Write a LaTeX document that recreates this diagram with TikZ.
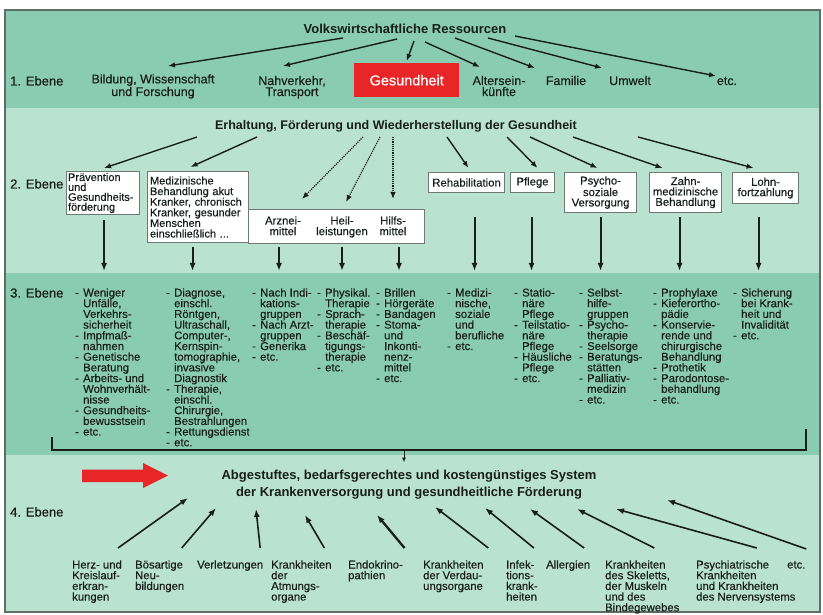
\documentclass[tikz,border=0pt]{standalone}
\usepackage{fontspec}
\setmainfont{Liberation Sans}
\newfontfamily\heavy{Liberation Sans}[FakeBold=0.35]
\usetikzlibrary{arrows.meta}
\definecolor{bandA}{RGB}{138,204,178}
\definecolor{bandB}{RGB}{186,226,208}
\definecolor{redbox}{RGB}{232,38,40}
\definecolor{ink}{RGB}{24,30,27}
\definecolor{framec}{RGB}{95,110,104}
\definecolor{boxline}{RGB}{110,120,116}
\newcommand\dd{\makebox[8pt][l]{-}}
\newcommand\ii{\hspace*{8pt}}
\tikzset{
  arr/.style={draw=ink, line width=1.4pt, -{Latex[length=7pt,width=5.5pt]}},
  darr/.style={draw=ink, line width=1.2pt, densely dotted, -{Latex[length=7pt,width=5.5pt]}},
  varr/.style={draw=ink, line width=1.9pt, -{Latex[length=8pt,width=6pt]}},
  uarr/.style={draw=ink, line width=1.6pt, -{Latex[length=8pt,width=6pt]}},
  sarr/.style={draw=ink, line width=1pt, -{Latex[length=5pt,width=4pt]}},
  head/.style={font=\fontsize{12.5}{17}\selectfont\bfseries, text=ink, inner sep=0pt, align=center},
  lvl/.style={font=\heavy\fontsize{13}{11}\selectfont, text=ink, inner sep=0pt},
  itemA/.style={font=\heavy\fontsize{12.5}{11}\selectfont, text=ink, inner sep=0pt, align=center},
  body/.style={font=\heavy\fontsize{11.3}{10.7}\selectfont, text=ink, inner sep=0pt, align=left},
  boxA/.style={draw=boxline, line width=1.1pt, fill=white, font=\heavy\fontsize{11.3}{10.4}\selectfont, text=ink, inner xsep=2.5pt, inner ysep=1.5pt, anchor=north west},
}
\begin{document}
\begin{tikzpicture}[x=1pt,y=-1pt]
\useasboundingbox (0,0) rectangle (823,615);
% bands
\fill[white] (0,0) rectangle (823,615);
\fill[bandA] (5,10) rectangle (820,108);
\fill[bandB] (5,108) rectangle (820,273);
\fill[bandA] (5,273) rectangle (820,455);
\fill[bandB] (5,455) rectangle (820,612);
\draw[framec, line width=1.4pt] (5,10) rectangle (820,612);

% ---------- level 1  (multi-line nodes: base = last baseline)
\node[head, font=\fontsize{13}{17}\selectfont\bfseries, anchor=base] (volk) at (405,34) {Volkswirtschaftliche Ressourcen};
\node[lvl, anchor=base west] (eb1) at (10,85.5) {1. Ebene};
\node[itemA, anchor=base] (bild) at (153,96) {Bildung, Wissenschaft\\und Forschung};
\node[itemA, anchor=base] (nahv) at (292,96) {Nahverkehr,\\Transport};
\node[fill=redbox, text=white, font=\heavy\fontsize{14.5}{14}\selectfont, minimum width=105pt, minimum height=34pt, inner sep=0pt, anchor=north west] (ges) at (354,63) {Gesundheit};
\node[itemA, anchor=base] (alt) at (499,96) {Altersein-\\künfte};
\node[itemA, anchor=base] (fam) at (566,85) {Familie};
\node[itemA, anchor=base] (umw) at (630,85) {Umwelt};
\node[itemA, anchor=base] (etcA) at (727,85) {etc.};

\draw[arr] ([xshift=-62pt,yshift=-4pt]volk.base) -- ([xshift=15pt,yshift=30pt]bild.base);
\draw[arr] ([xshift=-8pt,yshift=-5pt]volk.base) -- ([xshift=-9pt,yshift=30pt]nahv.base);
\draw[arr] ([xshift=9pt,yshift=-7pt]volk.base) -- ([yshift=2pt]ges.north);
\draw[arr] ([xshift=20pt,yshift=-8pt]volk.base) -- ([xshift=-19pt,yshift=29pt]alt.base);
\draw[arr] ([xshift=50pt,yshift=-4pt]volk.base) -- ([xshift=-31pt,yshift=17pt]fam.base);
\draw[arr] ([xshift=83pt,yshift=-4pt]volk.base) -- ([xshift=-28pt,yshift=17pt]umw.base);
\draw[arr] ([xshift=110pt,yshift=-2pt]volk.base) -- ([xshift=-11pt,yshift=9pt]etcA.base);

% ---------- level 2
\node[head, anchor=base] (erh) at (396,130) {Erhaltung, Förderung und Wiederherstellung der Gesundheit};
\node[lvl, anchor=base west] (eb2) at (10,188.5) {2. Ebene};
\node[boxA, font=\heavy\fontsize{11}{9.9}\selectfont, inner xsep=1.5pt, text width=70pt, align=left] (prae) at (66,171) {Prävention\\und\\Gesundheits-\\förderung};
\node[boxA, text width=96pt, align=left, minimum height=71pt, font=\heavy\fontsize{11}{10.6}\selectfont] (med) at (147,171) {Medizinische\\Behandlung akut\\Kranker, chronisch\\Kranker, gesunder\\Menschen\\einschließlich ...};
\node[boxA, minimum width=176pt, minimum height=34pt] (ahh) at (248,209) {};
\node[body, align=center, anchor=base] (arz) at (283,235.2) {Arznei-\\mittel};
\node[body, align=center, anchor=base] (heil) at (342,235.2) {Heil-\\leistungen};
\node[body, align=center, anchor=base] (hilf) at (393,235.2) {Hilfs-\\mittel};
\node[boxA, align=center, minimum width=76pt, minimum height=20pt] (rehab) at (428,172) {Rehabilitation};
\node[boxA, align=center, minimum width=44pt, minimum height=20pt] (pfl) at (510,172) {Pflege};
\node[boxA, align=center, minimum width=72pt, minimum height=40pt] (psy) at (564,172) {Psycho-\\soziale\\Versorgung};
\node[boxA, align=center, minimum width=72pt, minimum height=40pt] (zahn) at (649,172) {Zahn-\\medizinische\\Behandlung};
\node[boxA, align=center, minimum width=66pt, minimum height=31pt] (lohn) at (732,172) {Lohn-\\fortzahlung};

\draw[arr] ([xshift=-199pt,yshift=-7pt]erh.base) -- ([xshift=1pt,yshift=3pt]prae.north);
\draw[arr] ([xshift=-139pt,yshift=-7pt]erh.base) -- ([xshift=-7.5pt,yshift=4pt]med.north);
\draw[darr] ([xshift=-33pt,yshift=-7pt]erh.base) -- ([xshift=19pt,yshift=36.2pt]arz.base);
\draw[darr] ([xshift=-16pt,yshift=-7pt]erh.base) -- ([xshift=4pt,yshift=33.2pt]heil.base);
\draw[darr] ([xshift=-3pt,yshift=-7pt]erh.base) -- ([yshift=36.2pt]hilf.base);
\draw[arr] ([xshift=51pt,yshift=-7pt]erh.base) -- ([xshift=2pt,yshift=4pt]rehab.north);
\draw[arr] ([xshift=111pt,yshift=-7pt]erh.base) -- ([xshift=5pt,yshift=4pt]pfl.north);
\draw[arr] ([xshift=134pt,yshift=-7pt]erh.base) -- ([xshift=-3pt,yshift=4pt]psy.north);
\draw[arr] ([xshift=177pt,yshift=-7pt]erh.base) -- ([xshift=-23pt,yshift=4pt]zahn.north);
\draw[arr] ([xshift=242pt,yshift=-7pt]erh.base) -- ([xshift=-12pt,yshift=4pt]lohn.north);

% ---------- level 3 (first baseline 296.5, leading 10.7)
\coordinate (b3) at (0,271);
\node[lvl, anchor=base west] (eb3) at (10,297.5) {3. Ebene};
\node[body, anchor=base west] (c1) at (75,{296.5+13*10.7}) {\dd Weniger\\\ii Unfälle,\\\ii Verkehrs-\\\ii sicherheit\\\dd Impfmaß-\\\ii nahmen\\\dd Genetische\\\ii Beratung\\\dd Arbeits- und\\\ii Wohnverhält-\\\ii nisse\\\dd Gesundheits-\\\ii bewusstsein\\\dd etc.};
\node[body, anchor=base west] (c2) at (166,{296.5+14*10.7}) {\dd Diagnose,\\\ii einschl.\\\ii Röntgen,\\\ii Ultraschall,\\\ii Computer-,\\\ii Kernspin-\\\ii tomographie,\\\ii invasive\\\ii Diagnostik\\\dd Therapie,\\\ii einschl.\\\ii Chirurgie,\\\ii Bestrahlungen\\\dd Rettungsdienst\\\dd etc.};
\node[body, anchor=base west] (c3) at (252,{296.5+6*10.7}) {\dd Nach Indi-\\\ii kations-\\\ii gruppen\\\dd Nach Arzt-\\\ii gruppen\\\dd Generika\\\dd etc.};
\node[body, anchor=base west] (c4) at (317,{296.5+7*10.7}) {\dd Physikal.\\\ii Therapie\\\dd Sprach-\\\ii therapie\\\dd Beschäf-\\\ii tigungs-\\\ii therapie\\\dd etc.};
\node[body, anchor=base west] (c5) at (376,{296.5+8*10.7}) {\dd Brillen\\\dd Hörgeräte\\\dd Bandagen\\\dd Stoma-\\\ii und\\\ii Inkonti-\\\ii nenz-\\\ii mittel\\\dd etc.};
\node[body, anchor=base west] (c6) at (447,{296.5+5*10.7}) {\dd Medizi-\\\ii nische,\\\ii soziale\\\ii und\\\ii berufliche\\\dd etc.};
\node[body, anchor=base west] (c7) at (514,{296.5+8*10.7}) {\dd Statio-\\\ii näre\\\ii Pflege\\\dd Teilstatio-\\\ii näre\\\ii Pflege\\\dd Häusliche\\\ii Pflege\\\dd etc.};
\node[body, anchor=base west] (c8) at (579,{296.5+10*10.7}) {\dd Selbst-\\\ii hilfe-\\\ii gruppen\\\dd Psycho-\\\ii therapie\\\dd Seelsorge\\\dd Beratungs-\\\ii stätten\\\dd Palliativ-\\\ii medizin\\\dd etc.};
\node[body, anchor=base west] (c9) at (653,{296.5+10*10.7}) {\dd Prophylaxe\\\dd Kieferortho-\\\ii pädie\\\dd Konservie-\\\ii rende und\\\ii chirurgische\\\ii Behandlung\\\dd Prothetik\\\dd Parodontose-\\\ii behandlung\\\dd etc.};
\node[body, anchor=base west] (c10) at (733,{296.5+4*10.7}) {\dd Sicherung\\\ii bei Krank-\\\ii heit und\\\ii Invalidität\\\dd etc.};

\coordinate (s1) at ([xshift=1pt,yshift=-5pt]prae.south);
\coordinate (s2) at ([xshift=-5.5pt,yshift=-4pt]med.south);
\coordinate (s3) at ([xshift=-4pt,yshift=-11.8pt]arz.base);
\coordinate (s4) at ([yshift=-11.8pt]heil.base);
\coordinate (s5) at ([xshift=6pt,yshift=-11.8pt]hilf.base);
\coordinate (s6) at ([xshift=8pt,yshift=-24pt]rehab.south);
\coordinate (s7) at ([xshift=-1pt,yshift=-24pt]pfl.south);
\coordinate (s8) at ([yshift=-4pt]psy.south);
\coordinate (s9) at ([xshift=-6pt,yshift=-4pt]zahn.south);
\coordinate (s10) at ([xshift=-7pt,yshift=-13pt]lohn.south);
\foreach \s in {s1,s2,s3,s4,s5,s6,s7,s8,s9,s10}
  \draw[varr] (\s) -- (\s |- b3);

% bracket
\coordinate (brL) at (52,437);
\coordinate (brLb) at (52,450);
\coordinate (brRb) at (806,450);
\coordinate (brR) at (806,429);
\coordinate (brM) at (404,450);
\draw[ink, line width=1.1pt] (brL) -- (brLb) -- (brRb) -- (brR);

% ---------- level 4
\node[head, font=\fontsize{13}{17}\selectfont\bfseries, anchor=base] (abg) at (409,496.5) {Abgestuftes, bedarfsgerechtes und kostengünstiges System\\der Krankenversorgung und gesundheitliche Förderung};
\draw[sarr] (brM) -- ([xshift=-5pt,yshift=34pt]abg.base);
\fill[redbox] (82,469.5) -- (143,469.5) -- (143,463) -- (168,475.5) -- (143,488) -- (143,482) -- (82,482) -- cycle;
\node[lvl, anchor=base west] (eb4) at (10,516.5) {4. Ebene};

\node[body, anchor=base west] (herz) at (72,{568.5+3*10.7}) {Herz- und\\Kreislauf-\\erkran-\\kungen};
\node[body, anchor=base west] (bos) at (135,{568.5+2*10.7}) {Bösartige\\Neu-\\bildungen};
\node[body, anchor=base west] (verl) at (197,568.5) {Verletzungen};
\node[body, anchor=base west] (atm) at (271,{568.5+3*10.7}) {Krankheiten\\der\\Atmungs-\\organe};
\node[body, anchor=base west] (endo) at (348,{568.5+1*10.7}) {Endokrino-\\pathien};
\node[body, anchor=base west] (verd) at (423,{568.5+2*10.7}) {Krankheiten\\der Verdau-\\ungsorgane};
\node[body, anchor=base west] (infek) at (506,{568.5+3*10.7}) {Infek-\\tions-\\krank-\\heiten};
\node[body, anchor=base west] (allerg) at (546,568.5) {Allergien};
\node[body, anchor=base west] (skel) at (605,{568.5+4*10.7}) {Krankheiten\\des Skeletts,\\der Muskeln\\und des\\Bindegewebes};
\node[body, anchor=base west] (psych) at (696,{568.5+3*10.7}) {Psychiatrische\\Krankheiten\\und Krankheiten\\des Nervensystems};
\node[body, anchor=base west] (etcD) at (787,568.5) {etc.};

\draw[uarr] ([xshift=21pt,yshift=52.6pt]herz.base) -- ([xshift=-221pt,yshift=-1.5pt]abg.base);
\draw[uarr] ([xshift=22pt,yshift=41.9pt]bos.base) -- ([xshift=-193pt,yshift=-11.5pt]abg.base);
\draw[uarr] ([xshift=30pt,yshift=20.5pt]verl.base) -- ([xshift=-153pt,yshift=-12.5pt]abg.base);
\draw[uarr] ([xshift=23pt,yshift=52.6pt]atm.base) -- ([xshift=-104pt,yshift=-18.5pt]abg.base);
\draw[uarr, line width=2.3pt] ([xshift=29pt,yshift=31.2pt]endo.base) -- ([xshift=-32pt,yshift=-18.5pt]abg.base);
\draw[uarr] ([xshift=35pt,yshift=41.9pt]verd.base) -- ([xshift=26pt,yshift=-10.5pt]abg.base);
\draw[uarr] ([xshift=12pt,yshift=52.6pt]infek.base) -- ([xshift=76pt,yshift=-11.5pt]abg.base);
\draw[uarr] ([xshift=16pt,yshift=20.5pt]allerg.base) -- ([xshift=121pt,yshift=-12.5pt]abg.base);
\draw[uarr] ([xshift=12pt,yshift=63.3pt]skel.base) -- ([xshift=168pt,yshift=-12.5pt]abg.base);
\draw[uarr] ([xshift=11pt,yshift=52.6pt]psych.base) -- ([xshift=207pt,yshift=-12.5pt]abg.base);
\draw[uarr] ([xshift=10pt,yshift=19.5pt]etcD.base) -- ([xshift=258pt,yshift=-3.5pt]abg.base);
\end{tikzpicture}
\end{document}
